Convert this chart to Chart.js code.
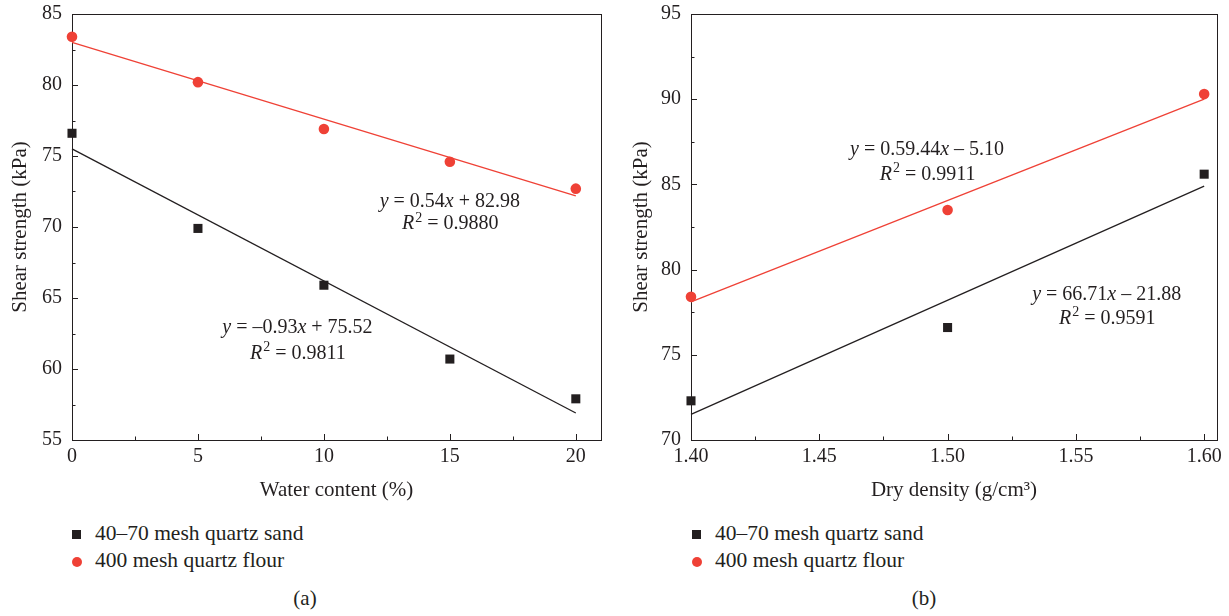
<!DOCTYPE html>
<html>
<head>
<meta charset="utf-8">
<script src="https://cdn.jsdelivr.net/npm/chart.js@4.4.1/dist/chart.umd.min.js"></script>
<style>
  body { margin: 0; background: #fff; width: 1229px; height: 616px; position: relative; overflow: hidden;
         font-family: "Liberation Serif", serif; color: #231f20; }
  canvas { position: absolute; top: 0; }
  .row { position: absolute; font-size: 21.5px; line-height: 26px; white-space: nowrap; }
  .sq { display: inline-block; width: 9px; height: 9px; background: #231f20; margin-right: 14px; vertical-align: 1px; }
  .dot { display: inline-block; width: 10px; height: 10px; border-radius: 50%; background: #ef4136; margin-right: 13px; vertical-align: 0px; }
  .cap { position: absolute; top: 585px; font-size: 21px; line-height: 26px; text-align: center; }
</style>
</head>
<body>
<canvas id="panelA" width="615" height="516" style="left:0"></canvas>
<canvas id="panelB" width="609" height="516" style="left:620px"></canvas>

<div class="row" style="left:72px;top:520px"><span class="sq"></span>40–70 mesh quartz sand</div>
<div class="row" style="left:72px;top:547px"><span class="dot"></span>400 mesh quartz flour</div>
<div class="cap" style="left:0;width:610px">(a)</div>

<div class="row" style="left:692px;top:520px"><span class="sq"></span>40–70 mesh quartz sand</div>
<div class="row" style="left:692px;top:547px"><span class="dot"></span>400 mesh quartz flour</div>
<div class="cap" style="left:620px;width:608px">(b)</div>

<script>
// (a) shear strength vs water content
const waterContent  = [0, 5, 10, 15, 20];
const sandByWater   = [76.6, 69.9, 65.9, 60.7, 57.9];
const flourByWater  = [83.4, 80.2, 76.9, 74.6, 72.7];
const waterFitX     = [0, 20];
const sandFitWater  = [75.5, 56.9];
const flourFitWater = [83.0, 72.2];

// (b) shear strength vs dry density
const dryDensity      = [1.40, 1.50, 1.60];
const sandByDensity   = [72.3, 76.6, 85.6];
const flourByDensity  = [78.4, 83.5, 90.3];
const densityFitX     = [1.40, 1.60];
const sandFitDensity  = [71.5, 84.9];
const flourFitDensity = [78.1, 90.0];

// tick labels
const waterTicks     = [0, 5, 10, 15, 20];
const strengthTicksA = [55, 60, 65, 70, 75, 80, 85];
const densityTicks   = [1.40, 1.45, 1.50, 1.55, 1.60];
const strengthTicksB = [70, 75, 80, 85, 90, 95];

const INK = '#231f20';
const RED = '#ef4136';
const FAMILY = '"Liberation Serif", "Times New Roman", serif';

const zip = (xs, ys) => xs.map((x, i) => ({ x, y: ys[i] }));

// frame + inward major/minor ticks, then the fit equations
const framePlugin = {
  id: 'frame',
  beforeDatasetsDraw(chart) {
    const { ctx, chartArea: a, scales } = chart;
    ctx.save();
    ctx.strokeStyle = INK;
    ctx.lineWidth = 1;
    ctx.strokeRect(Math.round(a.left) + 0.5, Math.round(a.top) + 0.5,
                   Math.round(a.right - a.left), Math.round(a.bottom - a.top));
    const marks = (scale, horiz) => {
      const vals = scale.ticks.map(t => t.value);
      const minors = vals.slice(1).map((v, i) => (v + vals[i]) / 2);
      const draw = (v, len) => {
        const p = Math.round(scale.getPixelForValue(v)) + 0.5;
        ctx.beginPath();
        if (horiz) { ctx.moveTo(p, a.bottom); ctx.lineTo(p, a.bottom - len); }
        else       { ctx.moveTo(a.left, p);   ctx.lineTo(a.left + len, p); }
        ctx.stroke();
      };
      vals.forEach(v => draw(v, 6));
      minors.forEach(v => draw(v, 3.5));
    };
    marks(scales.x, true);
    marks(scales.y, false);
    ctx.restore();
  },
  afterDraw(chart, args, opts) {
    const { ctx, scales } = chart;
    ctx.save();
    ctx.fillStyle = INK;
    (opts.notes || []).forEach(n => {
      const cx = scales.x.getPixelForValue(n.x);
      const cy = scales.y.getPixelForValue(n.y);
      drawRuns(ctx, n.runs, cx, cy, 20);
    });
    ctx.restore();
  }
};

// mixed italic / superscript text, centred at (cx, cy)
function drawRuns(ctx, runs, cx, cy, size) {
  const fontOf = r => `${r[1] ? 'italic ' : ''}${r[2] ? Math.round(size * 0.7) : size}px ${FAMILY}`;
  let total = 0;
  const widths = runs.map(r => { ctx.font = fontOf(r); const w = ctx.measureText(r[0]).width; total += w; return w; });
  let x = cx - total / 2;
  ctx.textBaseline = 'alphabetic';
  ctx.textAlign = 'left';
  runs.forEach((r, i) => {
    ctx.font = fontOf(r);
    ctx.fillText(r[0], x + (r[2] ? 1 : 0), cy + size * 0.33 - (r[2] ? size * 0.38 : 0));
    x += widths[i] + (r[2] ? 1 : 0);
  });
}

function makeChart(id, cfg) {
  const tickFont = { family: FAMILY, size: 20 };
  const titleFont = { family: FAMILY, size: 21 };
  return new Chart(document.getElementById(id), {
    type: 'scatter',
    data: {
      datasets: [
        { data: zip(cfg.fitX, cfg.sandFit), showLine: true, borderColor: INK, borderWidth: 1.3, pointRadius: 0, clip: false },
        { data: zip(cfg.fitX, cfg.flourFit), showLine: true, borderColor: RED, borderWidth: 1.3, pointRadius: 0, clip: false },
        { data: zip(cfg.xs, cfg.sand), pointStyle: 'rect', pointRadius: 6.4, backgroundColor: INK, borderWidth: 0, clip: false },
        { data: zip(cfg.xs, cfg.flour), pointStyle: 'circle', pointRadius: 5.3, backgroundColor: RED, borderWidth: 0, clip: false }
      ]
    },
    options: {
      responsive: false,
      animation: false,
      layout: { padding: { top: 14, right: cfg.padRight, left: 0, bottom: 0 } },
      plugins: { legend: { display: false }, tooltip: { enabled: false }, frame: { notes: cfg.notes } },
      scales: {
        x: {
          type: 'linear', min: cfg.xMin, max: cfg.xMax,
          grid: { display: false, drawTicks: false }, border: { display: false },
          afterBuildTicks: s => { s.ticks = cfg.xTicks.map(v => ({ value: v })); },
          afterFit: s => { s.height = 76; s.paddingLeft = 0; s.paddingRight = 0; },
          ticks: { autoSkip: false, maxRotation: 0, padding: 5, color: INK, font: tickFont, callback: cfg.xFmt },
          title: { display: true, text: cfg.xTitle, color: INK, font: titleFont, padding: { top: 0, bottom: 13 } }
        },
        y: {
          type: 'linear', min: cfg.yTicks[0], max: cfg.yTicks[cfg.yTicks.length - 1],
          grid: { display: false, drawTicks: false }, border: { display: false },
          afterBuildTicks: s => { s.ticks = cfg.yTicks.map(v => ({ value: v })); },
          afterFit: s => { s.width = cfg.yWidth; s.paddingTop = 0; s.paddingBottom = 0; },
          ticks: { autoSkip: false, padding: 10, color: INK, font: tickFont },
          title: { display: true, text: 'Shear strength (kPa)', color: INK, font: titleFont, padding: { top: cfg.yTitlePad, bottom: 0 } }
        }
      }
    },
    plugins: [framePlugin]
  });
}

makeChart('panelA', {
  xs: waterContent, sand: sandByWater, flour: flourByWater,
  fitX: waterFitX, sandFit: sandFitWater, flourFit: flourFitWater,
  xMin: 0, xMax: 21, xTicks: waterTicks, yTicks: strengthTicksA,
  xFmt: v => String(v), xTitle: 'Water content (%)',
  yWidth: 72, yTitlePad: 7.4, padRight: 14,
  notes: [
    { x: 15.0, y: 71.9, runs: [['y', 1], [' = 0.54', 0], ['x', 1], [' + 82.98', 0]] },
    { x: 15.0, y: 70.3, runs: [['R', 1], ['2', 0, 1], [' = 0.9880', 0]] },
    { x: 8.95, y: 63.0, runs: [['y', 1], [' = –0.93', 0], ['x', 1], [' + 75.52', 0]] },
    { x: 8.95, y: 61.2, runs: [['R', 1], ['2', 0, 1], [' = 0.9811', 0]] }
  ]
});

makeChart('panelB', {
  xs: dryDensity, sand: sandByDensity, flour: flourByDensity,
  fitX: densityFitX, sandFit: sandFitDensity, flourFit: flourFitDensity,
  xMin: 1.40, xMax: 1.605, xTicks: densityTicks, yTicks: strengthTicksB,
  xFmt: v => Number(v).toFixed(2), xTitle: 'Dry density (g/cm³)',
  yWidth: 71, yTitlePad: 8.4, padRight: 12,
  notes: [
    { x: 1.492, y: 87.1, runs: [['y', 1], [' = 0.59.44', 0], ['x', 1], [' – 5.10', 0]] },
    { x: 1.492, y: 85.65, runs: [['R', 1], ['2', 0, 1], [' = 0.9911', 0]] },
    { x: 1.562, y: 78.6, runs: [['y', 1], [' = 66.71', 0], ['x', 1], [' – 21.88', 0]] },
    { x: 1.562, y: 77.2, runs: [['R', 1], ['2', 0, 1], [' = 0.9591', 0]] }
  ]
});
</script>
</body>
</html>
